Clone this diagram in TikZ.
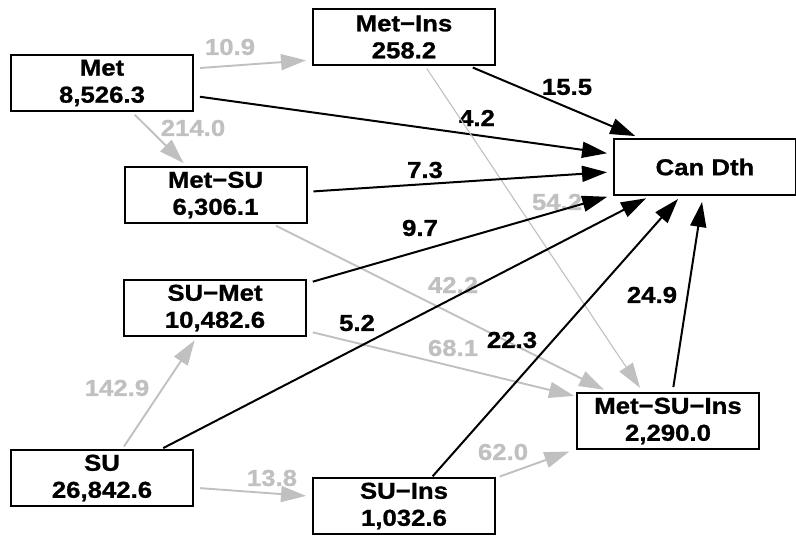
\documentclass[tikz,border=0pt]{standalone}
\usepackage{fontspec}
\setmainfont{Liberation Sans}[FakeStretch=1.12,BoldFeatures={FakeBold=1}]
\usetikzlibrary{arrows.meta}
\definecolor{pathgray}{HTML}{C0C0C0}

\begin{document}
\begin{tikzpicture}[x=1pt,y=-1pt,font=\bfseries\fontsize{23}{27}\selectfont,
  box/.style={draw,line width=2pt,minimum width=182pt,minimum height=56pt,align=center,inner sep=0pt},
  blk/.style={-{Triangle[length=25pt,width=16pt]},line width=2pt},
  gry/.style={-{Triangle[length=25pt,width=16pt]},line width=1.9pt,draw=pathgray},
  num/.style={inner sep=0pt},
  numg/.style={inner sep=0pt,text=pathgray}]
\useasboundingbox (0,0) rectangle (796,536);
\node[box] (met) at (102,83) {Met\\8,526.3};
\node[box] (metins) at (404,37) {Met−Ins\\258.2};
\node[box] (metsu) at (215.5,195) {Met−SU\\6,306.1};
\node[box] (can) at (705,167) {Can Dth};
\node[box] (sumet) at (215,308) {SU−Met\\10,482.6};
\node[box] (su) at (102,478) {SU\\26,842.6};
\node[box] (suins) at (404,506) {SU−Ins\\1,032.6};
\node[box] (metsuins) at (668,421) {Met−SU−Ins\\2,290.0};
\draw[gry,shorten <=6pt,shorten >=6pt] (met.9) -- (metins.194);
\node[numg] (n109) at (230,47) {10.9};
\draw[blk,shorten <=6pt,shorten >=6pt] (met.352) -- (can.172);
\node[num] (n42) at (477,118) {4.2};
\draw[gry,shorten <=4pt,shorten >=4pt] (met.316) -- (metsu.135.5);
\node[numg] (n2140) at (193,128) {214.0};
\draw[blk,shorten <=4pt,shorten >=5pt] (metins.336.6) -- (can.156);
\node[num] (n155) at (567,87) {15.5};
\draw[gry,line width=1.1pt,shorten <=3pt,shorten >=5pt] (metins.306) -- (metsuins.131);
\node[numg] (n542) at (557,202) {54.2};
\draw[blk,shorten <=6pt,shorten >=6pt] (metsu.2.8) -- (can.183.5);
\node[num] (n73) at (425,170) {7.3};
\draw[gry,shorten <=4pt,shorten >=5pt] (metsu.333) -- (metsuins.154);
\node[numg] (n422) at (453,285) {42.2};
\draw[blk,shorten <=6pt,shorten >=6pt] (sumet.15) -- (can.197);
\node[num] (n97) at (420,228) {9.7};
\draw[gry,shorten <=6pt,shorten >=2pt] (sumet.346) -- (metsuins.165.8);
\node[numg] (n681) at (453,348) {68.1};
\draw[gry,shorten <=3pt,shorten >=4pt] (su.55) -- (sumet.238);
\node[numg] (n1429) at (117,388) {142.9};
\draw[blk,shorten <=2pt,shorten >=5pt] (su.26.2) -- (can.208);
\node[num] (n52) at (357,323) {5.2};
\draw[gry,shorten <=6pt,shorten >=6pt] (su.354) -- (suins.174);
\node[numg] (n138) at (272,478) {13.8};
\draw[blk,shorten <=1pt,shorten >=4pt] (suins.46) -- (can.230);
\node[num] (n223) at (512,340) {22.3};
\draw[gry,shorten <=4pt,shorten >=7pt] (suins.17.3) -- (metsuins.197);
\node[numg] (n620) at (503,452) {62.0};
\draw[blk,shorten <=5pt,shorten >=6pt] (metsuins.81.8) -- (can.266);
\node[num] (n249) at (652,295) {24.9};
\end{tikzpicture}
\end{document}
